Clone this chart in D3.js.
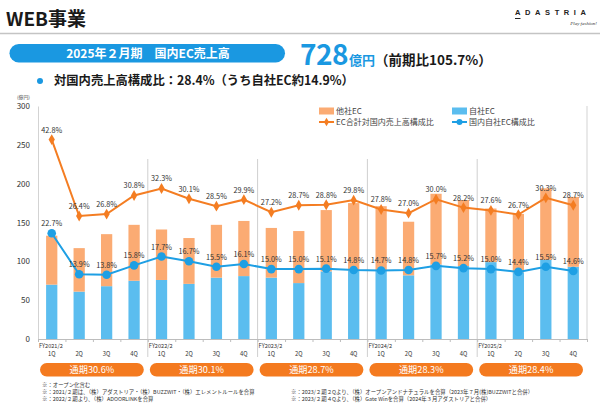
<!DOCTYPE html>
<html>
<head>
<meta charset="utf-8">
<script src="https://cdn.jsdelivr.net/npm/d3@7"></script>
<style>
  body { margin: 0; background: #fff; }
  svg { display: block; font-family: "Noto Sans CJK JP", "Noto Sans", sans-serif; }
</style>
</head>
<body>
<div id="chart"></div>
<script>
const quarters = ['1Q', '2Q', '3Q', '4Q'];
const fiscalYears = ['FY2021/2', 'FY2022/2', 'FY2023/2', 'FY2024/2', 'FY2025/2'];
// 億円
const ownEC = [70, 61, 68, 75, 76, 71, 79, 81, 79, 72, 87, 88, 88, 82, 96, 94, 99, 86, 102, 93];
const otherEC = [63, 56, 67, 72, 65, 59, 68, 71, 64, 67, 79, 87, 83, 69, 91, 85, 69, 75, 92, 90];
// %
const totalShare = [42.8, 26.4, 26.8, 30.8, 32.3, 30.1, 28.5, 29.9, 27.2, 28.7, 28.8, 29.8, 27.8, 27.0, 30.0, 28.2, 27.6, 26.7, 30.3, 28.7];
const ownShare = [22.7, 13.9, 13.8, 15.8, 17.7, 16.7, 15.5, 16.1, 15.0, 15.0, 15.1, 14.8, 14.7, 14.8, 15.7, 15.2, 15.0, 14.4, 15.5, 14.6];
const yearShare = ['通期30.6%', '通期30.1%', '通期28.7%', '通期28.3%', '通期28.4%'];
const yTicks = [0, 50, 100, 150, 200, 250, 300];
const notesLeft = [
  '※：オープン化含む',
  '※：2021/２期は、（株）アダストリア・（株）BUZZWIT・（株）エレメントルールを合算',
  '※：2022/２期より、（株）ADOORLINKを合算'
];
const notesRight = [
  '※：2023/２期２Qより、（株）オープンアンドナチュラルを合算（2023年７月(株)BUZZWITと合併）',
  '※：2023/２期４Qより、（株）Gate Winを合算（2024年３月アダストリアと合併）'
];

const ORANGE_BAR = '#fbab73', BLUE_BAR = '#5bbdef';
const ORANGE_LINE = '#f47d22', BLUE_LINE = '#1e9fe4';
const PILL_BLUE = '#1a98e1', PILL_ORANGE = '#f47a1f';

const rows = ownEC.map((v, i) => ({
  i, own: v, other: otherEC[i], total: v + otherEC[i],
  tShare: totalShare[i], oShare: ownShare[i]
}));

const svg = d3.select('#chart').append('svg')
  .attr('width', 600)
  .attr('height', 408);

// ---- header
svg.append('text').attr('x', 6).attr('y', 26)
  .attr('font-size', 19).attr('font-weight', 700).attr('fill', '#1a1a1a')
  .text('WEB事業');
svg.append('line').attr('x1', 0).attr('x2', 600).attr('y1', 33.5).attr('y2', 33.5)
  .attr('stroke', '#c4c4c4').attr('stroke-width', 1.5);
svg.append('text').attr('x', 515).attr('y', 15)
  .attr('font-family', 'Liberation Sans, sans-serif')
  .attr('font-size', 7.5).attr('font-weight', 700).attr('letter-spacing', 4.6).attr('fill', '#222')
  .text('ADASTRIA');
svg.append('line').attr('x1', 515).attr('x2', 520.5).attr('y1', 18.5).attr('y2', 18.5)
  .attr('stroke', '#222').attr('stroke-width', 1);
svg.append('text').attr('x', 597).attr('y', 25).attr('text-anchor', 'end')
  .attr('font-family', 'Liberation Serif, serif').attr('font-style', 'italic')
  .attr('font-size', 5).attr('fill', '#333')
  .text('Play fashion!');

svg.append('rect').attr('x', 9.5).attr('y', 44).attr('width', 275.5).attr('height', 18.5)
  .attr('rx', 9.25).attr('fill', PILL_BLUE);
svg.append('text').attr('x', 148).attr('y', 57.5).attr('text-anchor', 'middle')
  .attr('font-size', 12).attr('font-weight', 700).attr('fill', '#fff')
  .text('2025年２月期　国内EC売上高');

const big = svg.append('text').attr('x', 300).attr('y', 64.5).attr('font-weight', 700);
big.append('tspan').attr('font-size', 28).attr('fill', PILL_BLUE).attr('letter-spacing', -0.5).text('728');
big.append('tspan').attr('font-size', 13).attr('fill', PILL_BLUE).attr('dx', 1).text('億円');
big.append('tspan').attr('font-size', 13.5).attr('fill', '#1a1a1a').text('（前期比105.7%）');

svg.append('circle').attr('cx', 40).attr('cy', 81).attr('r', 3).attr('fill', PILL_BLUE);
svg.append('text').attr('x', 54).attr('y', 85)
  .attr('font-size', 12.3).attr('font-weight', 700).attr('fill', '#1a1a1a')
  .text('対国内売上高構成比：28.4%（うち自社EC約14.9%）');

// ---- scales
const plot = { left: 38, right: 587, top: 106, bottom: 339 };
const x = d3.scaleBand()
  .domain(d3.range(rows.length))
  .range([plot.left, plot.right])
  .paddingInner(0.59)
  .paddingOuter(0.295);
const step = x.step();
const xEdge = d3.scaleLinear().domain([0, rows.length]).range([plot.left, plot.right]);
const y = d3.scaleLinear().domain([0, 300]).range([plot.bottom, plot.top]);
const yPct = d3.scaleLinear().domain([0, 50]).range([plot.bottom, plot.top]);
const cx = i => x(i) + x.bandwidth() / 2;

svg.append('text').attr('x', 17).attr('y', 99)
  .attr('font-size', 4.8).attr('fill', '#444').text('(億円)');

// y axis
const yAxis = svg.append('g')
  .attr('transform', `translate(${plot.left},0)`)
  .call(d3.axisLeft(y).tickValues(yTicks).tickSize(0).tickPadding(8));
yAxis.select('.domain').attr('stroke', '#d3d3d3');
yAxis.selectAll('text').attr('font-size', 8).attr('fill', '#333').attr('font-family', 'Noto Sans CJK JP, sans-serif');

// right frame
svg.append('line').attr('x1', plot.right).attr('x2', plot.right)
  .attr('y1', plot.top).attr('y2', plot.bottom).attr('stroke', '#d3d3d3');

// group separators
svg.append('g').selectAll('line')
  .data(d3.range(1, fiscalYears.length))
  .join('line')
  .attr('x1', g => xEdge(g * 4)).attr('x2', g => xEdge(g * 4))
  .attr('y1', 159).attr('y2', 357)
  .attr('stroke', '#cfcfcf').attr('stroke-width', 1);

// bars
const bars = svg.append('g');
bars.selectAll('rect.own')
  .data(rows)
  .join('rect')
  .attr('class', 'own')
  .attr('x', d => x(d.i))
  .attr('width', x.bandwidth())
  .attr('y', d => y(d.own))
  .attr('height', d => y(0) - y(d.own))
  .attr('fill', BLUE_BAR);
bars.selectAll('rect.other')
  .data(rows)
  .join('rect')
  .attr('class', 'other')
  .attr('x', d => x(d.i))
  .attr('width', x.bandwidth())
  .attr('y', d => y(d.total))
  .attr('height', d => y(d.own) - y(d.total))
  .attr('fill', ORANGE_BAR);

// x axis
const xAxis = svg.append('g')
  .attr('transform', `translate(0,${plot.bottom})`)
  .call(d3.axisBottom(xEdge).tickValues(d3.range(rows.length + 1)).tickSize(3).tickFormat(''));
xAxis.select('.domain').attr('stroke', '#bdbdbd');
xAxis.selectAll('.tick line').attr('stroke', '#bdbdbd');

svg.append('g').selectAll('text')
  .data(rows)
  .join('text')
  .attr('x', d => cx(d.i))
  .attr('y', 356)
  .attr('text-anchor', 'middle')
  .attr('font-size', 5.8).attr('fill', '#333')
  .text(d => quarters[d.i % 4]);

svg.append('g').selectAll('text')
  .data(fiscalYears)
  .join('text')
  .attr('x', (d, g) => xEdge(g * 4) + 1)
  .attr('y', 348)
  .attr('font-size', 5.6).attr('fill', '#333')
  .text(d => d);

// lines
const lineTotal = d3.line().x(d => cx(d.i)).y(d => yPct(d.tShare));
const lineOwn = d3.line().x(d => cx(d.i)).y(d => yPct(d.oShare));

svg.append('path').datum(rows).attr('d', lineTotal)
  .attr('fill', 'none').attr('stroke', ORANGE_LINE).attr('stroke-width', 2);
svg.append('g').selectAll('path')
  .data(rows)
  .join('path')
  .attr('d', d3.symbol(d3.symbolDiamond, 34))
  .attr('transform', d => `translate(${cx(d.i)},${yPct(d.tShare)})`)
  .attr('fill', ORANGE_LINE);

svg.append('path').datum(rows).attr('d', lineOwn)
  .attr('fill', 'none').attr('stroke', BLUE_LINE).attr('stroke-width', 2);
svg.append('g').selectAll('circle')
  .data(rows)
  .join('circle')
  .attr('cx', d => cx(d.i))
  .attr('cy', d => yPct(d.oShare))
  .attr('r', 4.3)
  .attr('fill', BLUE_LINE);

// value labels
const labels = svg.append('g')
  .attr('font-size', 7.3).attr('fill', '#333').attr('text-anchor', 'middle');
labels.selectAll('text.t')
  .data(rows)
  .join('text')
  .attr('class', 't')
  .attr('x', d => cx(d.i))
  .attr('y', d => yPct(d.tShare) - 7)
  .text(d => d.tShare.toFixed(1) + '%');
labels.selectAll('text.o')
  .data(rows)
  .join('text')
  .attr('class', 'o')
  .attr('x', d => cx(d.i))
  .attr('y', d => yPct(d.oShare) - 7)
  .text(d => d.oShare.toFixed(1) + '%');

// legend
const legend = svg.append('g').attr('font-size', 8).attr('fill', '#444');
const legendItems = [
  { label: '他社EC', kind: 'bar', color: ORANGE_BAR, lx: 319, ly: 111 },
  { label: '自社EC', kind: 'bar', color: BLUE_BAR, lx: 452, ly: 111 },
  { label: 'EC合計対国内売上高構成比', kind: 'diamond', color: ORANGE_LINE, lx: 319, ly: 122 },
  { label: '国内自社EC構成比', kind: 'circle', color: BLUE_LINE, lx: 452, ly: 122 }
];
legendItems.forEach(it => {
  const g = legend.append('g').attr('transform', `translate(${it.lx},${it.ly})`);
  if (it.kind === 'bar') {
    g.append('rect').attr('x', 0).attr('y', -3.5).attr('width', 15).attr('height', 7).attr('fill', it.color);
  } else {
    g.append('line').attr('x1', 0).attr('x2', 15).attr('stroke', it.color).attr('stroke-width', 2);
    if (it.kind === 'diamond') {
      g.append('path').attr('d', d3.symbol(d3.symbolDiamond, 22)).attr('transform', 'translate(7.5,0)').attr('fill', it.color);
    } else {
      g.append('circle').attr('cx', 7.5).attr('r', 3).attr('fill', it.color);
    }
  }
  g.append('text').attr('x', 17).attr('y', 3).text(it.label);
});

// year pills
const pills = svg.append('g');
pills.selectAll('rect')
  .data(yearShare)
  .join('rect')
  .attr('x', (d, g) => xEdge(g * 4) + 2)
  .attr('y', 363)
  .attr('width', step * 4 - 6)
  .attr('height', 13.5)
  .attr('rx', 6.75)
  .attr('fill', PILL_ORANGE);
pills.selectAll('text')
  .data(yearShare)
  .join('text')
  .attr('x', (d, g) => xEdge(g * 4) + 2 + (step * 4 - 6) / 2)
  .attr('y', 373.3)
  .attr('text-anchor', 'middle')
  .attr('font-size', 9.2).attr('fill', '#fff')
  .text(d => d);

// footnotes
const notes = svg.append('g').attr('font-size', 5.4).attr('fill', '#333');
notes.selectAll('text.l')
  .data(notesLeft)
  .join('text')
  .attr('class', 'l')
  .attr('x', 42)
  .attr('y', (d, k) => 387 + k * 7)
  .text(d => d);
notes.selectAll('text.r')
  .data(notesRight)
  .join('text')
  .attr('class', 'r')
  .attr('x', 291)
  .attr('y', (d, k) => 394 + k * 7)
  .text(d => d);
</script>
</body>
</html>
